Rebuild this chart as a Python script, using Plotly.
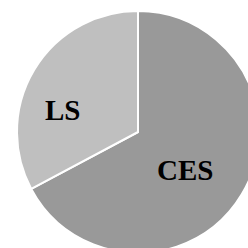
import plotly.graph_objects as go

labels = ["CES", "LS"]
values = [67.2, 32.8]
colors = ["#999999", "#bfbfbf"]
label_pos = {"CES": (0.694, 0.343), "LS": (0.186, 0.591)}

fig = go.Figure(go.Pie(
    labels=labels,
    values=values,
    sort=False,
    direction="clockwise",
    rotation=0,
    marker=dict(colors=colors, line=dict(color="white", width=2)),
    textinfo="none",
    hoverinfo="skip",
    showlegend=False,
))

for lab in labels:
    x, y = label_pos[lab]
    fig.add_annotation(x=x, y=y, xref="paper", yref="paper", text=f"<b>{lab}</b>",
                       showarrow=False, xanchor="center", yanchor="middle",
                       font=dict(family="Liberation Serif", size=29, color="black"))

fig.update_layout(
    width=259, height=253,
    margin=dict(l=17, r=0, t=11, b=0),
    paper_bgcolor="white",
)

fig.write_html("out.html", config={"displayModeBar": False},
               post_script="document.body.style.margin='0';document.body.style.overflow='hidden';document.documentElement.style.overflow='hidden';")
